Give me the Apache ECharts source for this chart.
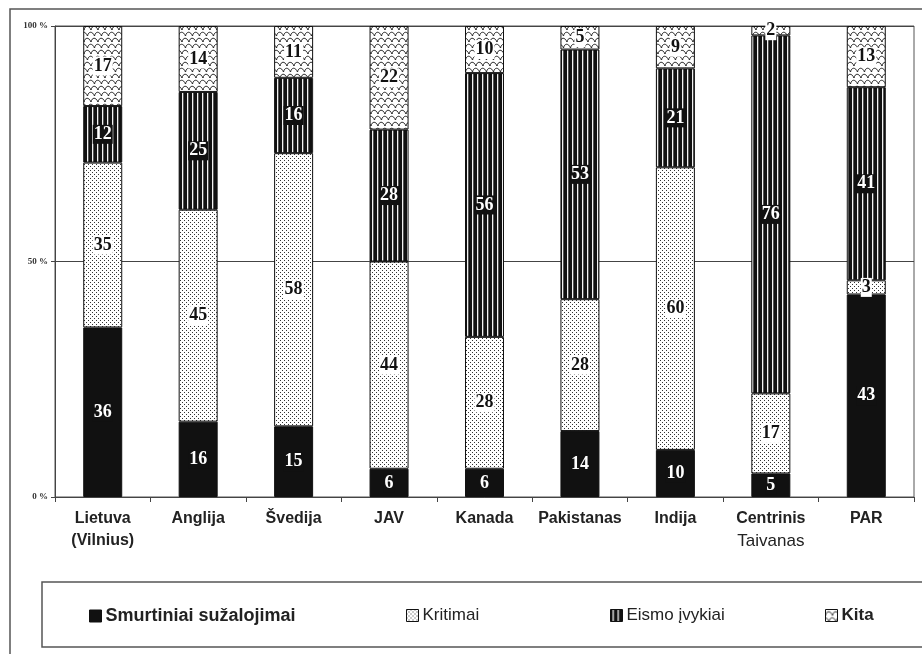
<!DOCTYPE html>
<html>
<head>
<meta charset="utf-8">
<script src="https://cdn.jsdelivr.net/npm/echarts@6/dist/echarts.min.js"></script>
<style>html,body{margin:0;padding:0;background:#fff}#c{width:922px;height:654px}</style>
</head>
<body>
<div id="c"></div>
<script>
const categories = ['Lietuva\n(Vilnius)', 'Anglija', 'Švedija', 'JAV', 'Kanada', 'Pakistanas', 'Indija', 'Centrinis\nTaivanas', 'PAR'];
const seriesNames = ['Smurtiniai sužalojimai', 'Kritimai', 'Eismo įvykiai', 'Kita'];
const smurtiniai = [36, 16, 15, 6, 6, 14, 10, 5, 43];
const kritimai = [35, 45, 58, 44, 28, 28, 60, 17, 3];
const eismo = [12, 25, 16, 28, 56, 53, 21, 76, 41];
const kita = [17, 14, 11, 22, 10, 5, 9, 2, 13];
const yTicks = [0, 50, 100];

function pattern(kind) {
  const c = document.createElement('canvas');
  const g = c.getContext('2d');
  if (kind === 'dots') {
    c.width = 4; c.height = 4;
    g.fillStyle = '#fff'; g.fillRect(0, 0, 4, 4);
    g.fillStyle = '#333';
    g.fillRect(0, 0, 1, 1); g.fillRect(2, 2, 1, 1);
  } else if (kind === 'stripes') {
    c.width = 5; c.height = 4;
    g.fillStyle = '#111'; g.fillRect(0, 0, 5, 4);
    g.fillStyle = '#f2f2f2'; g.fillRect(2, 0, 1.3, 4);
  } else if (kind === 'scales') {
    c.width = 14; c.height = 12;
    g.fillStyle = '#fff'; g.fillRect(0, 0, 14, 12);
    g.strokeStyle = '#222'; g.lineWidth = 1;
    g.beginPath();
    for (let x = -7; x <= 14; x += 7) {
      g.moveTo(x, 6); g.bezierCurveTo(x + 1, 1, x + 5, 1, x + 7, 6);
    }
    g.stroke();
    g.beginPath();
    for (let x = -10.5; x <= 17; x += 7) {
      g.moveTo(x, 12); g.bezierCurveTo(x + 1, 7, x + 5, 7, x + 7, 12);
    }
    g.stroke();
  }
  return { image: c, repeat: 'repeat' };
}

const colors = ['#111', pattern('dots'), pattern('stripes'), pattern('scales')];
const labelDark = { color: '#fff', backgroundColor: '#111', padding: [1, 1, 0, 1] };
const labelLight = { color: '#111', backgroundColor: '#fff', padding: [1, 1, 0, 1] };
const labelStyles = [labelDark, labelLight, labelDark, labelLight];
const values = [smurtiniai, kritimai, eismo, kita];

const series = seriesNames.map((name, i) => ({
  name: name,
  type: 'bar',
  stack: 'all',
  barWidth: 39,
  data: values[i],
  itemStyle: { color: colors[i], borderColor: '#111', borderWidth: 1 },
  label: Object.assign({
    show: true, position: 'inside',
    fontFamily: 'Liberation Serif, Times New Roman, serif',
    fontWeight: 'bold', fontSize: 18
  }, labelStyles[i]),
  emphasis: { disabled: true },
  silent: true,
  animation: false
}));

const legendPos = [89, 406, 610, 825];
const legendFont = [
  { fontSize: 18, fontWeight: 'bold' },
  { fontSize: 17, fontWeight: 'normal' },
  { fontSize: 17, fontWeight: 'normal' },
  { fontSize: 17, fontWeight: 'bold' }
];
const legends = seriesNames.map((name, i) => ({
  data: [name],
  left: legendPos[i],
  top: 607,
  padding: 0,
  itemWidth: 12,
  itemHeight: 12,
  icon: 'rect',
  selectedMode: false,
  itemStyle: { borderColor: '#111', borderWidth: 1 },
  textStyle: Object.assign({ color: '#222', fontFamily: 'Liberation Sans, Arial, sans-serif', padding: [0, 0, 0, -1] }, legendFont[i])
}));

const chart = echarts.init(document.getElementById('c'), null, { renderer: 'canvas' });
chart.setOption({
  animation: false,
  backgroundColor: '#fff',
  grid: { left: 55, right: 8, top: 26, bottom: 157, show: true, borderColor: '#555', borderWidth: 1 },
  legend: legends,
  graphic: [
    { type: 'rect', shape: { x: 10, y: 9, width: 940, height: 700 }, style: { fill: 'none', stroke: '#555', lineWidth: 1.5 }, silent: true },
    { type: 'rect', shape: { x: 42, y: 582, width: 920, height: 65 }, style: { fill: 'none', stroke: '#555', lineWidth: 1.5 }, silent: true }
  ],
  xAxis: {
    type: 'category',
    data: categories,
    axisLine: { lineStyle: { color: '#444', width: 1 } },
    axisTick: { show: true, length: 5, lineStyle: { color: '#444' } },
    axisLabel: {
      margin: 11,
      interval: 0,
      color: '#222',
      formatter: function (v) {
        const parts = v.split('\n');
        return parts.map((p, k) => (v.indexOf('Centrinis') === 0 && k === 1) ? '{r|' + p + '}' : '{b|' + p + '}').join('\n');
      },
      rich: {
        b: { fontFamily: 'Liberation Sans, Arial, sans-serif', fontWeight: 'bold', fontSize: 16, lineHeight: 22, color: '#222' },
        r: { fontFamily: 'Liberation Sans, Arial, sans-serif', fontWeight: 'normal', fontSize: 17, lineHeight: 22, color: '#222' }
      }
    }
  },
  yAxis: {
    type: 'value',
    min: yTicks[0],
    max: yTicks[yTicks.length - 1],
    interval: yTicks[1] - yTicks[0],
    axisLine: { show: true, lineStyle: { color: '#444' } },
    axisTick: { show: true, length: 4, lineStyle: { color: '#444' } },
    splitLine: { show: true, lineStyle: { color: '#444', width: 1 } },
    axisLabel: {
      formatter: '{value} %',
      margin: 7,
      color: '#333',
      fontFamily: 'Liberation Serif, Times New Roman, serif',
      fontWeight: 'bold',
      fontSize: 9
    }
  },
  series: series
});
</script>
</body>
</html>
